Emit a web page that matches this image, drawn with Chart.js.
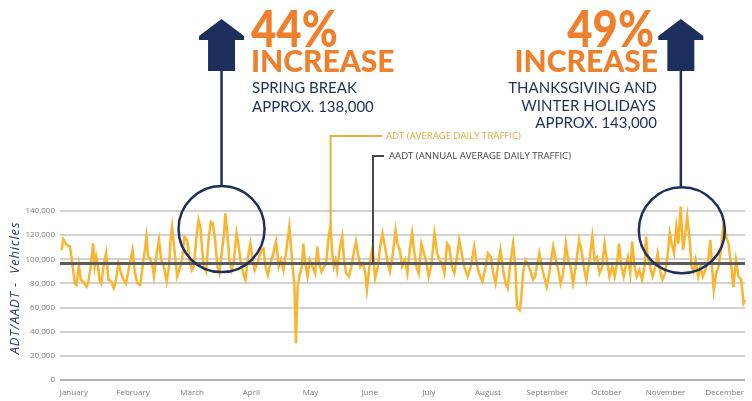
<!DOCTYPE html>
<html>
<head>
<meta charset="utf-8">
<script src="https://cdn.jsdelivr.net/npm/chart.js@4.4.1/dist/chart.umd.min.js"></script>
<style>
  html, body { margin: 0; padding: 0; background: #fff; }
  #wrap { width: 752px; height: 401px; overflow: hidden; }
</style>
</head>
<body>
<div id="wrap"><canvas id="chart" width="752" height="401"></canvas></div>
<script>
// day of year (0 = Jan 1) and ADT values
const days = [
  0.8, 1.7, 3.4, 5.1, 5.9, 7.6, 8.5, 9.7, 10.7, 11.9, 13.6, 14.4, 15.8, 17, 17.8, 18.6, 19.5, 20.3, 21.2, 22.6,
  23.7, 24.9, 26.3, 27.6, 28.8, 30, 31.4, 32.7, 33.9, 35.6, 37.3, 38.5, 39.8, 41.2, 42.4, 43.6, 44.4, 45.3, 46.3, 47.5,
  48.3, 49.7, 50.9, 52, 53.4, 54.8, 56, 56.8, 57.6, 58.8, 60.2, 61.5, 62.7, 63.9, 65.3, 66.6, 67.8,
  68.7, 70.3, 71.2, 72.1, 73.8, 75.1, 76.3, 77.5, 78.5, 79.7, 80.9, 81.9, 83.1, 84.3, 84.9, 86, 87, 88.2, 89.4, 90.7,
  91.6, 92.7, 94.1, 95.3, 96.6, 97.8, 98.8, 100, 101.7, 103.4, 104.6, 105.6, 106.8, 108.5, 109.4, 111, 112.4, 113.6,
  114.8, 116.1, 117.8, 118.7, 119.5, 120.4, 121.2, 122.1, 122.9, 124.3, 125, 126, 127.2, 128.3, 129.7, 131.1, 132.2,
  133.1, 134.4, 135.7, 136.8, 137.8, 139, 139.9, 140.7, 141.6, 142.4, 143.6, 145, 145.8, 147, 148.4, 149.7, 150.9,
  152.1, 153.1, 154.3, 155.5, 156.8, 157.7, 159.4, 160.6, 161.9, 163.3, 164.5, 165.7, 167, 168.4, 169.5, 170.8,
  172.4, 173.4, 174.6, 175.8, 177.2, 178.5, 179.7, 180.9, 181.9, 183.1, 184.3, 185.7, 187, 188.2, 189.4, 190.7,
  192.4, 193.8, 195, 196.2, 197.5, 198.9, 200, 201.3, 202.6, 204, 205.1, 206.4, 207.7, 209.4, 211.1,
  212.8, 214.1, 215.3, 217, 218.7, 219.9, 221.3, 222.6, 223.8, 225, 226.3, 227.7, 228.9, 230, 231.4, 232.8, 234,
  234.8, 236.2, 236.9, 237.9, 239.1, 240.2, 241.6, 243, 244.1, 245, 246.3, 247.5, 248.7, 250.1, 251.4, 252.6, 253.4,
  254.8, 256, 257.2, 258.5, 259.9, 261.1, 262.3, 263.6, 265, 266.7, 267.9, 269.1, 270.4, 271.8, 273.5, 274.7, 275.9,
  277.2, 278.6, 279.8, 281, 282.3,
  283.8, 285, 286.2, 287.2, 288.4, 289.6, 290.6, 291.8, 293, 294, 295.2, 296.4, 297.7, 299.1, 300.3, 301.1, 302,
  303.2, 304.5, 305.9, 307.1, 308.2, 309.6, 310.9, 312.1, 313.3, 314.3, 315.5, 316.7, 317.7, 318.9, 320.1, 321.1,
  322.3, 323.5, 324.5, 325.5, 326.6, 327.9, 329.1, 330.3, 331.6, 333, 334.2, 335, 335.9, 337.1, 338.4, 339.8, 340.9,
  342.2, 343.5, 344.9, 346, 347.3, 348.6, 350, 351.2, 352
];
const adt = [
  107700, 116600, 111800, 110500, 102000, 80000, 78700, 95000, 83000, 81600, 77300, 80000, 93900, 113200, 94000, 102000, 94000, 83000, 80000, 96700,
  105000, 83000, 81600, 76000, 83000, 96700, 88400, 83000, 80000, 94000, 107700, 88400, 80000, 78700, 94000, 107700, 118800, 102000, 100700, 94000,
  85700, 105000, 116000, 99400, 94000, 81600, 94000, 116000, 127000, 107700, 85700, 92600, 99400, 118800, 116000, 99400, 91000,
  94000, 121500, 132600, 127000, 94000, 89700, 116000, 131000, 129800, 116000, 94000, 88400, 105000, 121500, 138100, 121500, 99400, 91000, 99400, 121500,
  113000, 99400, 88400, 83000, 102000, 113000, 102000, 91000, 98000, 107700, 109000, 94000, 87000, 99400, 103500, 114700, 94000, 99400,
  91000, 105000, 127000, 110500, 94000, 80000, 30400, 77000, 85700, 94000, 113000, 96700, 85700, 99400, 94000, 88400, 110500,
  96700, 89700, 94000, 96700, 116000, 128000, 104000, 94000, 99400, 91000, 107700, 118800, 102000, 88400, 85700, 94000, 105000,
  114700, 105000, 94000, 96700, 89700, 74600, 99400, 110000, 84400, 94000, 110500, 121500, 110500, 96700, 89700, 102000,
  124300, 113000, 107700, 94000, 99400, 88400, 107700, 121500, 107700, 94000, 88400, 113000, 105000, 98000, 85700, 94000,
  121500, 105000, 99400, 96700, 88400, 113000, 110500, 94000, 88400, 102000, 116000, 105000, 94000, 85700, 94000,
  110500, 96700, 88400, 81600, 94000, 105000, 102000, 88400, 80000, 94000, 107700, 91000, 80000, 76000, 96700, 113000, 94000,
  60700, 58000, 66300, 88400, 99400, 96700, 91000, 83000, 85700, 94000, 105000, 94000, 85700, 77000, 88400, 102000, 110500,
  99400, 91000, 80000, 88400, 113000, 99400, 94000, 80000, 94000, 116000, 107700, 94000, 83000, 96700, 118800, 99400, 102000,
  88400, 94000, 113000, 99400, 85700,
  94000, 85700, 96700, 113000, 94000, 85700, 94000, 102000, 88400, 114700, 94000, 85700, 91000, 83000, 94000, 118800, 102000,
  94000, 85700, 94000, 105000, 91000, 83000, 88400, 102000, 121500, 113000, 105000, 127000, 113000, 143600, 107700, 118800,
  135400, 116000, 94000, 89700, 99400, 85700, 94000, 85700, 91000, 99400, 116000, 94000, 74600, 88400, 94000, 110500, 129800,
  118800, 113000, 94000, 77000, 99400, 85700, 83000, 63600, 66300
];
const aadt = 96500;
const months = ["January", "February", "March", "April", "May", "June", "July",
  "August", "September", "October", "November", "December"];
const monthTicks = [7.1, 37.5, 67.9, 98.3, 128.7, 159.1, 189.5, 219.9, 250.3, 280.7, 311.1, 341.5];
const yTicks = [0, 20000, 40000, 60000, 80000, 100000, 120000, 140000];

const NAVY = "#1d2f5c";
const ORANGE = "#ef7f2b";
const GOLD = "#fab42e";

function drawArrow(ctx, cx, circleTop) {
  ctx.fillStyle = NAVY;
  ctx.beginPath();
  ctx.moveTo(cx, 19);
  ctx.lineTo(cx + 22.5, 36);
  ctx.lineTo(cx + 22.5, 40);
  ctx.lineTo(cx + 13.5, 40);
  ctx.lineTo(cx + 13.5, 71);
  ctx.lineTo(cx - 13.5, 71);
  ctx.lineTo(cx - 13.5, 40);
  ctx.lineTo(cx - 22.5, 40);
  ctx.lineTo(cx - 22.5, 36);
  ctx.closePath();
  ctx.fill();
  ctx.strokeStyle = NAVY;
  ctx.lineWidth = 2.5;
  ctx.beginPath();
  ctx.moveTo(cx, 70);
  ctx.lineTo(cx, circleTop);
  ctx.stroke();
}

// big squeezed headline text
function bigText(ctx, text, x, y, align) {
  ctx.save();
  ctx.translate(x, y);
  ctx.scale(0.84, 1);
  ctx.textAlign = align;
  ctx.font = "900 52px Lato";
  ctx.fillText(text, 0, 0);
  ctx.restore();
}

const annotations = {
  id: "annotations",
  afterDraw(chart) {
    const ctx = chart.ctx;
    const x = chart.scales.x;
    const y = chart.scales.y;

    // y axis title
    ctx.save();
    ctx.translate(15, 288);
    ctx.rotate(-Math.PI / 2);
    ctx.font = "italic 13px 'Open Sans'";
    ctx.letterSpacing = "0.8px";
    ctx.fillStyle = "#2b3b68";
    ctx.textAlign = "center";
    ctx.textBaseline = "middle";
    ctx.fillText("ADT/AADT -  Vehicles", 0, 0);
    ctx.restore();

    // circles round the two peaks
    const r = 43;
    const c1 = { x: x.getPixelForValue(83), y: y.getPixelForValue(125000) };
    const c2 = { x: x.getPixelForValue(319.5), y: y.getPixelForValue(124000) };
    ctx.save();
    ctx.strokeStyle = NAVY;
    ctx.lineWidth = 2.5;
    [c1, c2].forEach((c) => {
      ctx.beginPath();
      ctx.arc(c.x, c.y, r, 0, Math.PI * 2);
      ctx.stroke();
    });
    drawArrow(ctx, c1.x, c1.y - r);
    drawArrow(ctx, c2.x - 1, c2.y - r);

    // headline texts
    ctx.textBaseline = "alphabetic";
    ctx.fillStyle = ORANGE;
    bigText(ctx, "44%", 251, 47, "left");
    bigText(ctx, "49%", 654, 47, "right");
    ctx.font = "900 30px Lato";
    ctx.textAlign = "left";
    ctx.fillText("INCREASE", 251, 72);
    ctx.textAlign = "right";
    ctx.fillText("INCREASE", 658, 72);

    ctx.fillStyle = NAVY;
    ctx.font = "15px Lato";
    ctx.textAlign = "left";
    ctx.fillText("SPRING BREAK", 252, 93);
    ctx.fillText("APPROX. 138,000", 252, 112);
    ctx.textAlign = "right";
    ctx.fillText("THANKSGIVING AND", 657, 93);
    ctx.fillText("WINTER HOLIDAYS", 656, 111);
    ctx.fillText("APPROX. 143,000", 657, 128);

    // ADT callout
    const peakIdx = days.indexOf(139);
    const px = x.getPixelForValue(days[peakIdx]);
    const py = y.getPixelForValue(adt[peakIdx]);
    ctx.lineWidth = 2;
    ctx.strokeStyle = "#e9ae3c";
    ctx.beginPath();
    ctx.moveTo(px, py);
    ctx.lineTo(px, 136);
    ctx.lineTo(382, 136);
    ctx.stroke();
    ctx.textAlign = "left";
    ctx.textBaseline = "middle";
    ctx.font = "9.6px 'Open Sans'";
    ctx.fillStyle = "#e3a93a";
    ctx.fillText("ADT (AVERAGE DAILY TRAFFIC)", 386, 136);

    // AADT callout
    const ax = 373;
    ctx.strokeStyle = "#4a4a4a";
    ctx.beginPath();
    ctx.moveTo(ax, y.getPixelForValue(aadt));
    ctx.lineTo(ax, 156);
    ctx.lineTo(384, 156);
    ctx.stroke();
    ctx.fillStyle = "#444";
    ctx.fillText("AADT (ANNUAL AVERAGE DAILY TRAFFIC)", 389, 156);
    ctx.restore();
  }
};

new Chart(document.getElementById("chart"), {
  type: "line",
  data: {
    datasets: [
      {
        label: "AADT",
        data: [{ x: 0, y: aadt }, { x: 352, y: aadt }],
        borderColor: "#5b5b5b",
        borderWidth: 3,
        pointRadius: 0,
        order: 0
      },
      {
        label: "ADT",
        data: days.map((d, i) => ({ x: d, y: adt[i] })),
        borderColor: GOLD,
        borderWidth: 2.5,
        pointRadius: 0,
        tension: 0,
        clip: false,
        order: 1
      }
    ]
  },
  options: {
    responsive: false,
    animation: false,
    layout: { padding: { top: 211, left: 0, right: 0, bottom: 0 } },
    plugins: { legend: { display: false }, tooltip: { enabled: false } },
    scales: {
      x: {
        type: "linear",
        min: 0,
        max: 352,
        afterFit: (s) => { s.height = 21; },
        afterBuildTicks: (s) => { s.ticks = monthTicks.map((v) => ({ value: v })); },
        grid: { display: false, drawTicks: false },
        border: { display: false },
        ticks: {
          autoSkip: false,
          maxRotation: 0,
          padding: 8,
          color: "#7a7a7a",
          font: { family: "'Open Sans'", size: 8 },
          callback: (v, i) => months[i]
        }
      },
      y: {
        min: 0,
        max: 140000,
        afterFit: (s) => { s.width = 60; },
        afterBuildTicks: (s) => { s.ticks = yTicks.map((v) => ({ value: v })); },
        grid: {
          drawTicks: false,
          lineWidth: 2,
          color: (c) => (c.tick && c.tick.value === 0 ? "#b4b4b4" : "#d2d2d2")
        },
        border: { display: false },
        ticks: {
          padding: 5,
          color: "#7a7a7a",
          font: { family: "'Open Sans'", size: 8 },
          callback: (v) => v.toLocaleString("en-US")
        }
      }
    }
  },
  plugins: [annotations]
});
</script>
</body>
</html>
